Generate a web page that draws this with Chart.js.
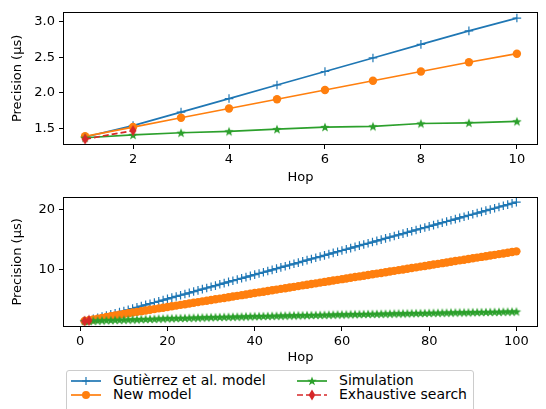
<!DOCTYPE html>
<html lang="en">
<head>
  <meta charset="UTF-8">
  <title>Precision vs Hop</title>
  <script src="https://cdn.jsdelivr.net/npm/chart.js"></script>
  <style>
    body { margin: 0; background: #fff; font-family: "DejaVu Sans", sans-serif; }
    #wrap { position: relative; width: 546px; height: 409px; overflow: hidden; }
    canvas.plot { position: absolute; left: 0; }
    #top { top: 0; }
    #bottom { top: 185px; }
    .legend {
      position: absolute; left: 66px; top: 370px; width: 406px; height: 48px;
      border: 1px solid #ccc; border-radius: 3px; background: rgba(255,255,255,0.8);
      font-size: 14px; color: #000;
    }
    .item { position: absolute; height: 14px; line-height: 14px; white-space: nowrap; }
    .item svg { position: absolute; left: 0; top: 0; }
    .item span { position: absolute; left: 42px; top: -1px; }
  </style>
</head>
<body>
  <div id="wrap">
    <canvas id="top" class="plot" width="546" height="185"></canvas>
    <canvas id="bottom" class="plot" width="546" height="180"></canvas>
    <div class="legend" id="legend"></div>
  </div>

  <script>
    // --- data: hops 1..10 (upper panel)
    const hopsShort = [1, 2, 3, 4, 5, 6, 7, 8, 9, 10];
    const gutierrezShort = [1.38, 1.54, 1.73, 1.92, 2.11, 2.30, 2.49, 2.68, 2.87, 3.05];
    const newModelShort = [1.39, 1.52, 1.65, 1.78, 1.91, 2.04, 2.17, 2.30, 2.43, 2.55];
    const simulationShort = [1.37, 1.41, 1.44, 1.46, 1.49, 1.52, 1.53, 1.57, 1.58, 1.60];
    const exhaustiveHops = [1, 2];
    const exhaustive = [1.35, 1.47];

    // --- data: hops 1..100 (lower panel)
    const hopsLong = [
      1, 2, 3, 4, 5, 6, 7, 8, 9, 10, 11, 12, 13, 14, 15, 16, 17, 18, 19, 20,
      21, 22, 23, 24, 25, 26, 27, 28, 29, 30, 31, 32, 33, 34, 35, 36, 37, 38, 39, 40,
      41, 42, 43, 44, 45, 46, 47, 48, 49, 50, 51, 52, 53, 54, 55, 56, 57, 58, 59, 60,
      61, 62, 63, 64, 65, 66, 67, 68, 69, 70, 71, 72, 73, 74, 75, 76, 77, 78, 79, 80,
      81, 82, 83, 84, 85, 86, 87, 88, 89, 90, 91, 92, 93, 94, 95, 96, 97, 98, 99, 100
    ];
    const gutierrezLong = [
      1.38, 1.54, 1.73, 1.92, 2.11, 2.30, 2.49, 2.68, 2.87, 3.05,
      3.26, 3.46, 3.66, 3.87, 4.07, 4.27, 4.47, 4.67, 4.87, 5.08,
      5.28, 5.48, 5.68, 5.88, 6.08, 6.29, 6.49, 6.69, 6.89, 7.09,
      7.29, 7.50, 7.70, 7.90, 8.10, 8.30, 8.50, 8.70, 8.91, 9.11,
      9.31, 9.51, 9.71, 9.91, 10.12, 10.32, 10.52, 10.72, 10.92, 11.12,
      11.33, 11.53, 11.73, 11.93, 12.13, 12.33, 12.53, 12.74, 12.94, 13.14,
      13.34, 13.54, 13.74, 13.95, 14.15, 14.35, 14.55, 14.75, 14.95, 15.16,
      15.36, 15.56, 15.76, 15.96, 16.16, 16.36, 16.57, 16.77, 16.97, 17.17,
      17.37, 17.57, 17.78, 17.98, 18.18, 18.38, 18.58, 18.78, 18.99, 19.19,
      19.39, 19.59, 19.79, 19.99, 20.19, 20.40, 20.60, 20.80, 21.00, 21.20
    ];
    const newModelLong = [
      1.39, 1.52, 1.65, 1.78, 1.91, 2.04, 2.17, 2.30, 2.43, 2.55,
      2.68, 2.79, 2.91, 3.02, 3.14, 3.26, 3.37, 3.49, 3.60, 3.72,
      3.84, 3.95, 4.07, 4.18, 4.30, 4.42, 4.53, 4.65, 4.76, 4.88,
      5.00, 5.11, 5.23, 5.34, 5.46, 5.58, 5.69, 5.81, 5.92, 6.04,
      6.16, 6.27, 6.39, 6.50, 6.62, 6.74, 6.85, 6.97, 7.08, 7.20,
      7.32, 7.43, 7.55, 7.66, 7.78, 7.90, 8.01, 8.13, 8.24, 8.36,
      8.48, 8.59, 8.71, 8.82, 8.94, 9.06, 9.17, 9.29, 9.40, 9.52,
      9.64, 9.75, 9.87, 9.98, 10.10, 10.22, 10.33, 10.45, 10.56, 10.68,
      10.80, 10.91, 11.03, 11.14, 11.26, 11.38, 11.49, 11.61, 11.72, 11.84,
      11.96, 12.07, 12.19, 12.30, 12.42, 12.54, 12.65, 12.77, 12.88, 13.00
    ];
    const simulationLong = [
      1.37, 1.41, 1.44, 1.46, 1.49, 1.52, 1.53, 1.57, 1.58, 1.60,
      1.63, 1.65, 1.66, 1.70, 1.71, 1.74, 1.75, 1.79, 1.80, 1.84,
      1.85, 1.87, 1.89, 1.90, 1.92, 1.94, 1.95, 1.98, 1.99, 2.02,
      2.03, 2.05, 2.07, 2.08, 2.10, 2.12, 2.13, 2.16, 2.17, 2.19,
      2.20, 2.22, 2.23, 2.25, 2.26, 2.28, 2.29, 2.31, 2.32, 2.34,
      2.35, 2.37, 2.38, 2.40, 2.41, 2.42, 2.44, 2.45, 2.47, 2.48,
      2.49, 2.51, 2.52, 2.53, 2.55, 2.56, 2.57, 2.59, 2.60, 2.61,
      2.62, 2.64, 2.65, 2.66, 2.67, 2.69, 2.70, 2.71, 2.72, 2.74,
      2.75, 2.76, 2.77, 2.78, 2.80, 2.81, 2.82, 2.83, 2.84, 2.86,
      2.87, 2.88, 2.89, 2.90, 2.91, 2.92, 2.94, 2.95, 2.96, 2.97
    ];

    // --- tick labels
    const topXTicks = [2, 4, 6, 8, 10];
    const topYTicks = [1.5, 2.0, 2.5, 3.0];
    const bottomXTicks = [0, 20, 40, 60, 80, 100];
    const bottomYTicks = [10, 20];

    const labels = ['Gutièrrez et al. model', 'New model', 'Simulation', 'Exhaustive search'];
    const colors = ['#1f77b4', '#ff7f0e', '#2ca02c', '#d62728'];

    Chart.defaults.font = { family: 'DejaVu Sans', size: 13 };
    Chart.defaults.color = '#000';

    // custom markers like matplotlib '*' and 'd'
    function starMarker(color) {
      const c = document.createElement('canvas');
      c.width = 12; c.height = 12;
      const g = c.getContext('2d');
      g.fillStyle = color;
      g.beginPath();
      for (let i = 0; i < 10; i++) {
        const r = i % 2 === 0 ? 5 : 2.1;
        const a = -Math.PI / 2 + i * Math.PI / 5;
        g.lineTo(6 + r * Math.cos(a), 6.5 + r * Math.sin(a));
      }
      g.closePath();
      g.fill();
      return c;
    }
    function thinDiamond(color) {
      const c = document.createElement('canvas');
      c.width = 10; c.height = 12;
      const g = c.getContext('2d');
      g.fillStyle = color;
      g.beginPath();
      g.moveTo(5, 0.5); g.lineTo(8.5, 6); g.lineTo(5, 11.5); g.lineTo(1.5, 6);
      g.closePath();
      g.fill();
      return c;
    }
    const star = starMarker(colors[2]);
    const diamond = thinDiamond(colors[3]);

    const boxPlugin = {
      id: 'box',
      afterDraw(chart) {
        const a = chart.chartArea, ctx = chart.ctx;
        ctx.save();
        ctx.strokeStyle = '#000';
        ctx.lineWidth = 1;
        ctx.strokeRect(Math.round(a.left) + 0.5, Math.round(a.top) + 0.5,
          Math.round(a.right - a.left) - 1, Math.round(a.bottom - a.top) - 1);
        ctx.restore();
      }
    };

    function makeDatasets(hops, g, n, s) {
      const pts = (xs, ys) => xs.map((x, i) => ({ x: x, y: ys[i] }));
      return [
        { label: labels[0], data: pts(hops, g), borderColor: colors[0], backgroundColor: colors[0],
          borderWidth: 1.7, pointStyle: 'cross', pointRadius: 4.3, pointBorderWidth: 1.2, order: 3 },
        { label: labels[1], data: pts(hops, n), borderColor: colors[1], backgroundColor: colors[1],
          borderWidth: 1.7, pointStyle: 'circle', pointRadius: 4.2, pointBorderWidth: 0, order: 2 },
        { label: labels[2], data: pts(hops, s), borderColor: colors[2], backgroundColor: colors[2],
          borderWidth: 1.7, pointStyle: star, order: 1 },
        { label: labels[3], data: pts(exhaustiveHops, exhaustive), borderColor: colors[3], backgroundColor: colors[3],
          borderWidth: 1.7, borderDash: [6, 3], pointStyle: diamond, order: 0 }
      ];
    }

    function makeChart(id, datasets, xr, yr, xt, yt, yfmt, padTop, xH) {
      return new Chart(document.getElementById(id), {
        type: 'line',
        data: { datasets: datasets },
        plugins: [boxPlugin],
        options: {
          responsive: false,
          animation: false,
          layout: { padding: { left: 0, right: 8, top: padTop, bottom: 0 } },
          plugins: { legend: { display: false }, tooltip: { enabled: false } },
          elements: { line: { tension: 0 } },
          scales: {
            x: {
              type: 'linear', min: xr[0], max: xr[1],
              afterBuildTicks: ax => { ax.ticks = xt.map(v => ({ value: v })); },
              afterFit: ax => { ax.height = xH; },
              ticks: { padding: 3, maxRotation: 0, callback: v => String(v) },
              grid: { drawOnChartArea: false, tickLength: 4, color: '#000' },
              border: { display: false },
              title: { display: true, text: 'Hop', padding: { top: 0, bottom: 0 } }
            },
            y: {
              min: yr[0], max: yr[1],
              afterBuildTicks: ax => { ax.ticks = yt.map(v => ({ value: v })); },
              afterFit: ax => { ax.width = 63; },
              ticks: { padding: 4, callback: yfmt },
              grid: { drawOnChartArea: false, tickLength: 4, color: '#000' },
              border: { display: false },
              title: { display: true, text: 'Precision (μs)', padding: { top: 10, bottom: 0 } }
            }
          }
        }
      });
    }

    makeChart('top', makeDatasets(hopsShort, gutierrezShort, newModelShort, simulationShort),
      [0.54, 10.44], [1.268, 3.138], topXTicks, topYTicks, v => v.toFixed(1), 5, 40);
    makeChart('bottom', makeDatasets(hopsLong, gutierrezLong, newModelLong, simulationLong),
      [-3.95, 104.95], [0.38, 22.1], bottomXTicks, bottomYTicks, v => String(v), 2, 38);

    // legend (two columns, like matplotlib ncol=2)
    const handles = [
      '<line x1="0" y1="7" x2="30" y2="7" stroke="#1f77b4" stroke-width="1.7"/>' +
        '<path d="M15 3 V11 M11 7 H19" stroke="#1f77b4" stroke-width="1.2"/>',
      '<line x1="0" y1="7" x2="30" y2="7" stroke="#ff7f0e" stroke-width="1.7"/>' +
        '<circle cx="15" cy="7" r="4" fill="#ff7f0e"/>',
      '<line x1="0" y1="7" x2="30" y2="7" stroke="#2ca02c" stroke-width="1.7"/>' +
        '<path d="M15 2.5 L16.2 5.8 L19.6 5.8 L16.9 8 L18 11.3 L15 9.3 L12 11.3 L13.1 8 L10.4 5.8 L13.8 5.8 Z" fill="#2ca02c"/>',
      '<line x1="0" y1="7" x2="30" y2="7" stroke="#d62728" stroke-width="1.7" stroke-dasharray="6,3"/>' +
        '<path d="M15 1.5 L18.3 7 L15 12.5 L11.7 7 Z" fill="#d62728"/>'
    ];
    const pos = [[4, 3], [4, 17], [230, 3], [230, 17]];
    const legend = document.getElementById('legend');
    labels.forEach((name, i) => {
      const el = document.createElement('div');
      el.className = 'item';
      el.style.left = pos[i][0] + 'px';
      el.style.top = pos[i][1] + 'px';
      el.innerHTML = '<svg width="31" height="14">' + handles[i] + '</svg><span>' + name + '</span>';
      legend.appendChild(el);
    });
  </script>
</body>
</html>
